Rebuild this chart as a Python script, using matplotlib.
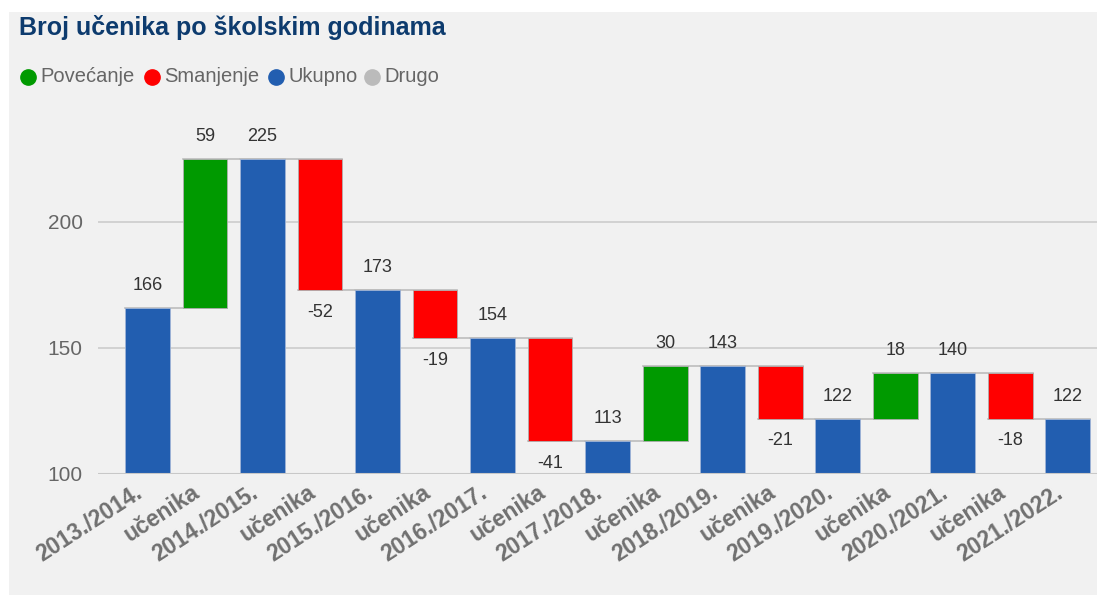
import matplotlib.pyplot as plt
from matplotlib.patches import Rectangle
from matplotlib.lines import Line2D
from matplotlib.transforms import ScaledTranslation
import numpy as np

plt.rcParams['font.family'] = ['Liberation Sans', 'DejaVu Sans']

# data
labels = ['2013./2014.', 'učenika', '2014./2015.', 'učenika', '2015./2016.', 'učenika',
          '2016./2017.', 'učenika', '2017./2018.', 'učenika', '2018./2019.', 'učenika',
          '2019./2020.', 'učenika', '2020./2021.', 'učenika', '2021./2022.']
kinds = ['total', 'change'] * 8 + ['total']
values = [166, 59, 225, -52, 173, -19, 154, -41, 113, 30, 143, -21, 122, 18, 140, -18, 122]
legend_names = ['Povećanje', 'Smanjenje', 'Ukupno', 'Drugo']

c_up = '#009a00'
c_down = '#ff0000'
c_total = '#225eb0'
c_other = '#bbbbbb'

fig = plt.figure(figsize=(10.97, 5.95), dpi=100)
fig.patch.set_facecolor('white')
fig.patches.append(Rectangle((9 / 1097, 0), 1 - 9 / 1097, 1 - 12 / 595,
                             transform=fig.transFigure, facecolor='#f1f1f1',
                             edgecolor='none', zorder=-10))

ax = fig.add_axes([98 / 1097, 1 - 474 / 595, 1 - 98 / 1097, (474 - 110) / 595])
ax.set_facecolor('none')

x = np.arange(len(values))
w = 0.78
level = 0
ends = []
lbl_kw = dict(textcoords='offset points', ha='center', fontsize=13, color='#333333')
for i, (k, v) in enumerate(zip(kinds, values)):
    if k == 'total':
        ax.bar(i, v, width=w, bottom=0, color=c_total, edgecolor='#9fb4d6', linewidth=0.6, zorder=3)
        level = v
        ax.annotate(str(v), (i, v), xytext=(0, 10), va='bottom', **lbl_kw)
    else:
        col = c_up if v > 0 else c_down
        ax.bar(i, v, width=w, bottom=level, color=col, edgecolor='#b0b0b0', linewidth=0.6, zorder=3)
        new = level + v
        if v > 0:
            ax.annotate(str(v), (i, new), xytext=(0, 10), va='bottom', **lbl_kw)
        else:
            ax.annotate(str(v), (i, new), xytext=(0, -10), va='top', **lbl_kw)
        level = new
    ends.append(level)

# connectors
for i in range(len(values) - 1):
    ax.plot([i - w / 2, i + 1 + w / 2], [ends[i], ends[i]], color='#bdbdbd', lw=1.2, zorder=2)

ax.set_xlim(-0.86, 16.51)
ax.set_ylim(100, 244.4)
ax.set_yticks([100, 150, 200])
ax.yaxis.grid(True, color='#cccccc', lw=1.2, zorder=1)
ax.tick_params(axis='y', length=0, labelsize=15, labelcolor='#666666', pad=11)
ax.tick_params(axis='x', length=0, pad=12)
ax.set_xticks(x)
ax.set_xticklabels(labels, rotation=33, ha='right', va='center', rotation_mode='anchor',
                   fontsize=16.5, fontweight='bold', color='#707070')
shift = ScaledTranslation(-7 / 100, 0, fig.dpi_scale_trans)
for t in ax.get_xticklabels():
    t.set_transform(t.get_transform() + shift)
for s in ax.spines.values():
    s.set_visible(False)
ax.axhline(100, color='#c8c8c8', lw=1.5, zorder=4)

fig.text(19 / 1097, 1 - 28 / 595, 'Broj učenika po školskim godinama', fontsize=18,
         fontweight='bold', color='#0d3b6e', ha='left', va='center')

# legend drawn by hand
leg_x = [28, 152, 276, 372]
for lx, name, col in zip(leg_x, legend_names, (c_up, c_down, c_total, c_other)):
    fig.lines.append(Line2D([lx / 1097], [1 - 77 / 595], transform=fig.transFigure,
                            marker='o', markersize=11, color=col, ls='none'))
    fig.text((lx + 12) / 1097, 1 - 77 / 595, name, fontsize=14.5, color='#666666',
             ha='left', va='center')

fig.savefig('out.png', dpi=100)
